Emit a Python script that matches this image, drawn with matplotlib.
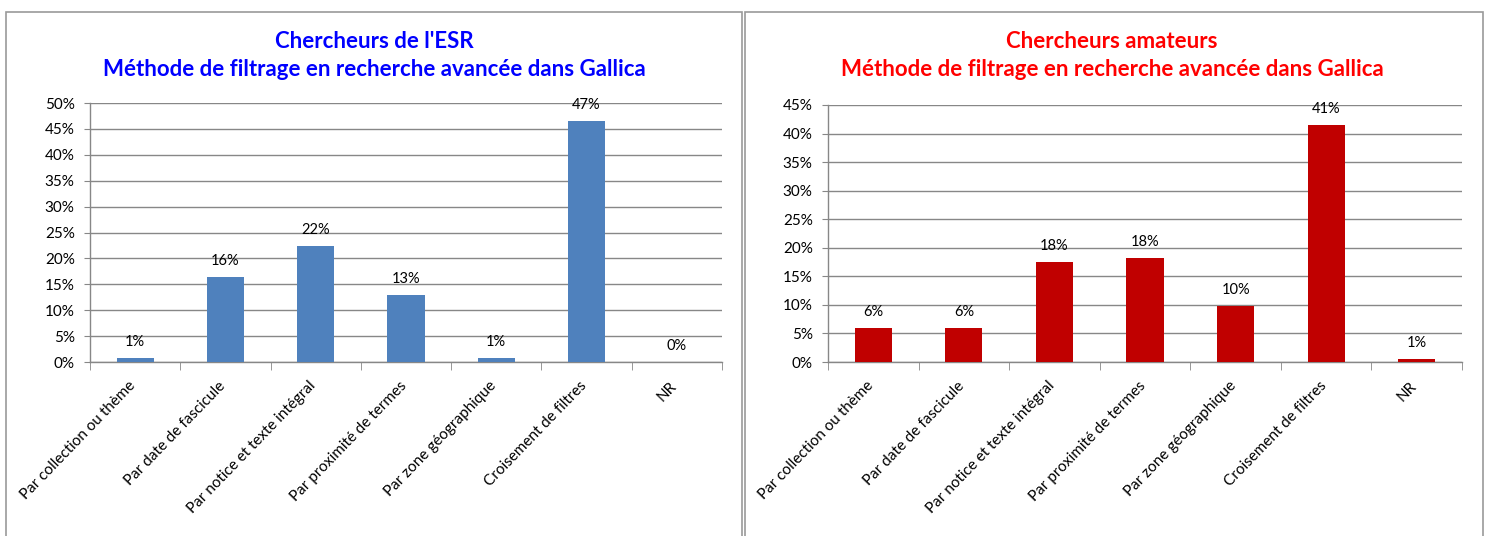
import matplotlib
matplotlib.use("Agg")
import matplotlib.pyplot as plt
from matplotlib.patches import Rectangle
from matplotlib.transforms import ScaledTranslation
import numpy as np

plt.rcParams['font.family'] = ['Lato', 'DejaVu Sans']

categories = ["Par collection ou thème", "Par date de fascicule",
              "Par notice et texte intégral", "Par proximité de termes",
              "Par zone géographique", "Croisement de filtres", "NR"]
esr_values = [0.7, 16.4, 22.4, 12.9, 0.7, 46.5, 0.0]
esr_labels = ["1%", "16%", "22%", "13%", "1%", "47%", "0%"]
ama_values = [5.9, 5.9, 17.5, 18.2, 9.8, 41.5, 0.5]
ama_labels = ["6%", "6%", "18%", "18%", "10%", "41%", "1%"]

W, H = 1488, 536
fig = plt.figure(figsize=(W / 100, H / 100), dpi=100)

def fx(px):
    return px / W

def fy(py):
    return 1 - py / H

# panel borders
for (x0, x1) in [(6, 742), (745, 1483)]:
    fig.patches.append(Rectangle((fx(x0), fy(560)), fx(x1 - x0), (560 - 12) / H,
                                 transform=fig.transFigure, fill=False,
                                 edgecolor="#9a9a9a", linewidth=1.2))

grid_color = "#878787"

def draw(ax, values, labels, color, ymax, step):
    x = np.arange(len(categories))
    ax.bar(x, values, width=0.41, color=color, zorder=3)
    ax.set_xlim(-0.5, len(categories) - 0.5)
    ax.set_ylim(0, ymax)
    ax.set_yticks(np.arange(0, ymax + 0.01, step))
    ax.set_yticklabels([f"{int(v)}%" for v in np.arange(0, ymax + 0.01, step)])
    ax.yaxis.grid(True, color=grid_color, linewidth=1.0, zorder=0)
    ax.set_axisbelow(True)
    for s in ["top", "right"]:
        ax.spines[s].set_visible(False)
    for s in ["left", "bottom"]:
        ax.spines[s].set_color(grid_color)
        ax.spines[s].set_linewidth(1.0)
    ax.tick_params(axis="y", length=4, color=grid_color, labelsize=11, pad=7)
    ax.set_xticks(x)
    ax.set_xticklabels(categories, rotation=46, ha="right", rotation_mode="anchor",
                       fontsize=11)
    ax.tick_params(axis="x", length=0, pad=12)
    shift = ScaledTranslation(-7 / 100, 0, fig.dpi_scale_trans)
    for t in ax.get_xticklabels():
        t.set_transform(t.get_transform() + shift)
    ax.set_xticks(np.arange(-0.5, len(categories)), minor=True)
    ax.tick_params(axis="x", which="minor", length=6, color=grid_color)
    for xi, v, lab in zip(x, values, labels):
        ax.annotate(lab, (xi, v), xytext=(0, 11.5), textcoords="offset points",
                    ha="center", va="center", fontsize=10.5, color="black")

ax1 = fig.add_axes([fx(90), fy(362), fx(722 - 90), (362 - 103) / H])
draw(ax1, esr_values, esr_labels, "#4F81BD", 50, 5)
ax2 = fig.add_axes([fx(828), fy(362), fx(1462 - 828), (362 - 105) / H])
draw(ax2, ama_values, ama_labels, "#C00000", 45, 5)

title_kw = dict(ha="center", va="center", fontsize=16, fontweight="bold")
fig.text(fx(374), fy(41), "Chercheurs de l'ESR", color="#0000FF", **title_kw)
fig.text(fx(374), fy(70), "Méthode de filtrage en recherche avancée dans Gallica",
         color="#0000FF", **title_kw)
fig.text(fx(1112), fy(41), "Chercheurs amateurs", color="#FF0000", **title_kw)
fig.text(fx(1112), fy(70), "Méthode de filtrage en recherche avancée dans Gallica",
         color="#FF0000", **title_kw)

fig.savefig("out.png", dpi=100)
